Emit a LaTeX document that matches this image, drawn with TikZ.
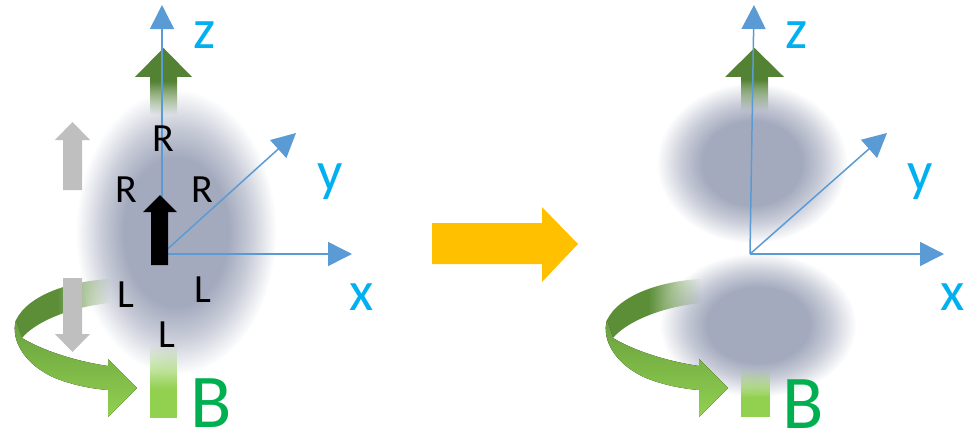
\documentclass[tikz,border=0pt]{standalone}
\usepackage{fontspec}
\setmainfont{Carlito}
\usetikzlibrary{arrows.meta,fadings}

\definecolor{axisblue}{RGB}{91,155,213}
\definecolor{labelcyan}{RGB}{0,176,240}
\definecolor{spingreen}{RGB}{84,130,53}
\definecolor{bandgreen}{RGB}{92,142,56}
\definecolor{ribbontop}{RGB}{104,160,62}
\definecolor{ribbonbottom}{RGB}{146,208,80}
\definecolor{fieldgreen}{RGB}{0,176,80}
\definecolor{spingray}{RGB}{191,191,191}
\definecolor{turnyellow}{RGB}{255,192,0}
\definecolor{cloud}{RGB}{164,170,190}

% soft fadings: white = opaque, black = transparent;
% a fitted path covers the middle 25bp--75bp of each fading
\pgfdeclareverticalshading{risefadeshade}{100bp}{color(0bp)=(black); color(29bp)=(black); color(52bp)=(white); color(100bp)=(white)}
\pgfdeclarefading{risefade}{\pgfuseshading{risefadeshade}}
\pgfdeclareverticalshading{sinkfadeshade}{100bp}{color(0bp)=(white); color(45bp)=(white); color(75bp)=(black); color(100bp)=(black)}
\pgfdeclarefading{sinkfade}{\pgfuseshading{sinkfadeshade}}
\pgfdeclarehorizontalshading{bandfadeshade}{100bp}{color(0bp)=(white); color(47bp)=(white); color(75bp)=(black); color(100bp)=(black)}
\pgfdeclarefading{bandfade}{\pgfuseshading{bandfadeshade}}
\pgfdeclareradialshading{cloudfadeshade}{\pgfpointorigin}{color(0bp)=(white); color(13bp)=(white); color(18.5bp)=(white!60!black); color(25bp)=(black); color(50bp)=(black)}
\pgfdeclarefading{cloudfade}{\pgfuseshading{cloudfadeshade}}

\tikzset{
  axis/.style={draw=axisblue, line width=1.5pt, -{Triangle[length=24pt,width=24pt]}},
  axislabel/.style={text=labelcyan, font=\fontsize{56}{60}\selectfont, inner sep=0pt, anchor=base},
  spinlabel/.style={text=black, font=\fontsize{40}{44}\selectfont, inner sep=0pt, anchor=base},
  fieldlabel/.style={text=fieldgreen, font=\fontsize{76}{80}\selectfont, inner sep=0pt, anchor=base},
  cloudblob/.style={fill=cloud, path fading=cloudfade},
  momentarrow/.style={fill=spingreen, path fading=risefade},
  fieldbar/.style={fill=ribbonbottom, path fading=sinkfade},
}

% curled arrow around the field line
\newcommand\ribbonturn{%
  \fill[bandgreen, path fading=bandfade]
    (110,279) .. controls (70,281) and (28,295) .. (16,320)
    -- (22,338) .. controls (35,322) and (70,307) .. (110,303) -- cycle;
  \fill[top color=ribbontop, bottom color=ribbonbottom]
    (16,320) .. controls (10,340) and (25,365) .. (55,378)
    .. controls (75,386) and (95,389) .. (108,390)
    -- (108,417) -- (137,388) -- (108,359) -- (108,366)
    .. controls (80,362) and (45,352) .. (22,338) -- cycle;
}

\begin{document}
\begin{tikzpicture}[x=1pt, y=-1pt]
\useasboundingbox (0,0) rectangle (967,439);
\fill[white] (0,0) rectangle (967,439);

% electron clouds
\fill[cloudblob] (176,232) ellipse [x radius=100, y radius=142];
\fill[cloudblob] (752,163) ellipse [x radius=95, y radius=80];
\fill[cloudblob] (758,325) ellipse [x radius=98, y radius=72];

% rotation ribbons
\ribbonturn
\begin{scope}[xshift=591pt]
  \ribbonturn
\end{scope}

% gray spin arrows
\fill[spingray] (63,190) -- (63,140) -- (55,140) -- (72.5,122) -- (90,140) -- (82,140) -- (82,190) -- cycle;
\fill[spingray] (63,278) -- (63,334) -- (55,334) -- (72.5,352) -- (90,334) -- (82,334) -- (82,278) -- cycle;

% green moment arrows
\fill[momentarrow] (150,120) -- (150,77) -- (135,77) -- (163.5,48) -- (192,77) -- (177,77) -- (177,120) -- cycle;
\fill[momentarrow] (741,116) -- (741,77) -- (725,77) -- (754.5,48) -- (784,77) -- (768,77) -- (768,116) -- cycle;

% field bars
\fill[fieldbar] (150,345) rectangle (177,418);
\fill[fieldbar] (741,368) rectangle (770,417);

% coordinate axes
\coordinate (oL) at (162,254);
\coordinate (zL) at (162,5);
\coordinate (xL) at (352,254);
\coordinate (yL) at (296,133);
\coordinate (oR) at (750,254);
\coordinate (zR) at (754,5);
\coordinate (xR) at (944,254);
\coordinate (yR) at (887,133);
\draw[axis] (oL) -- (zL);
\draw[axis] (oL) -- (xL);
\draw[axis] (oL) -- (yL);
\draw[axis] (oR) -- (zR);
\draw[axis] (oR) -- (xR);
\draw[axis] (oR) -- (yR);

% black spin arrow at the origin
\fill[black] (151,265) -- (151,212) -- (143,212) -- (160,195) -- (177,212) -- (168,212) -- (168,265) -- cycle;

% transition arrow
\fill[turnyellow] (432,223) -- (542,223) -- (542,207) -- (578,244) -- (542,282) -- (542,264) -- (432,264) -- cycle;

% labels
\node[axislabel] (lz) at (205,48) {z};
\node[axislabel] (ly) at (330,190) {y};
\node[axislabel] (lx) at (362,310) {x};
\node[axislabel] (rz) at (797,48) {z};
\node[axislabel] (ry) at (920,190) {y};
\node[axislabel] (rx) at (953,310) {x};

\node[spinlabel] (r1) at (163,151) {R};
\node[spinlabel] (r2) at (126,202) {R};
\node[spinlabel] (r3) at (202,202) {R};
\node[spinlabel] (l1) at (126,307) {L};
\node[spinlabel] (l2) at (203,302) {L};
\node[spinlabel] (l3) at (167,347) {L};

\node[fieldlabel] (bL) at (211,427) {B};
\node[fieldlabel] (bR) at (803,428) {B};
\end{tikzpicture}
\end{document}
